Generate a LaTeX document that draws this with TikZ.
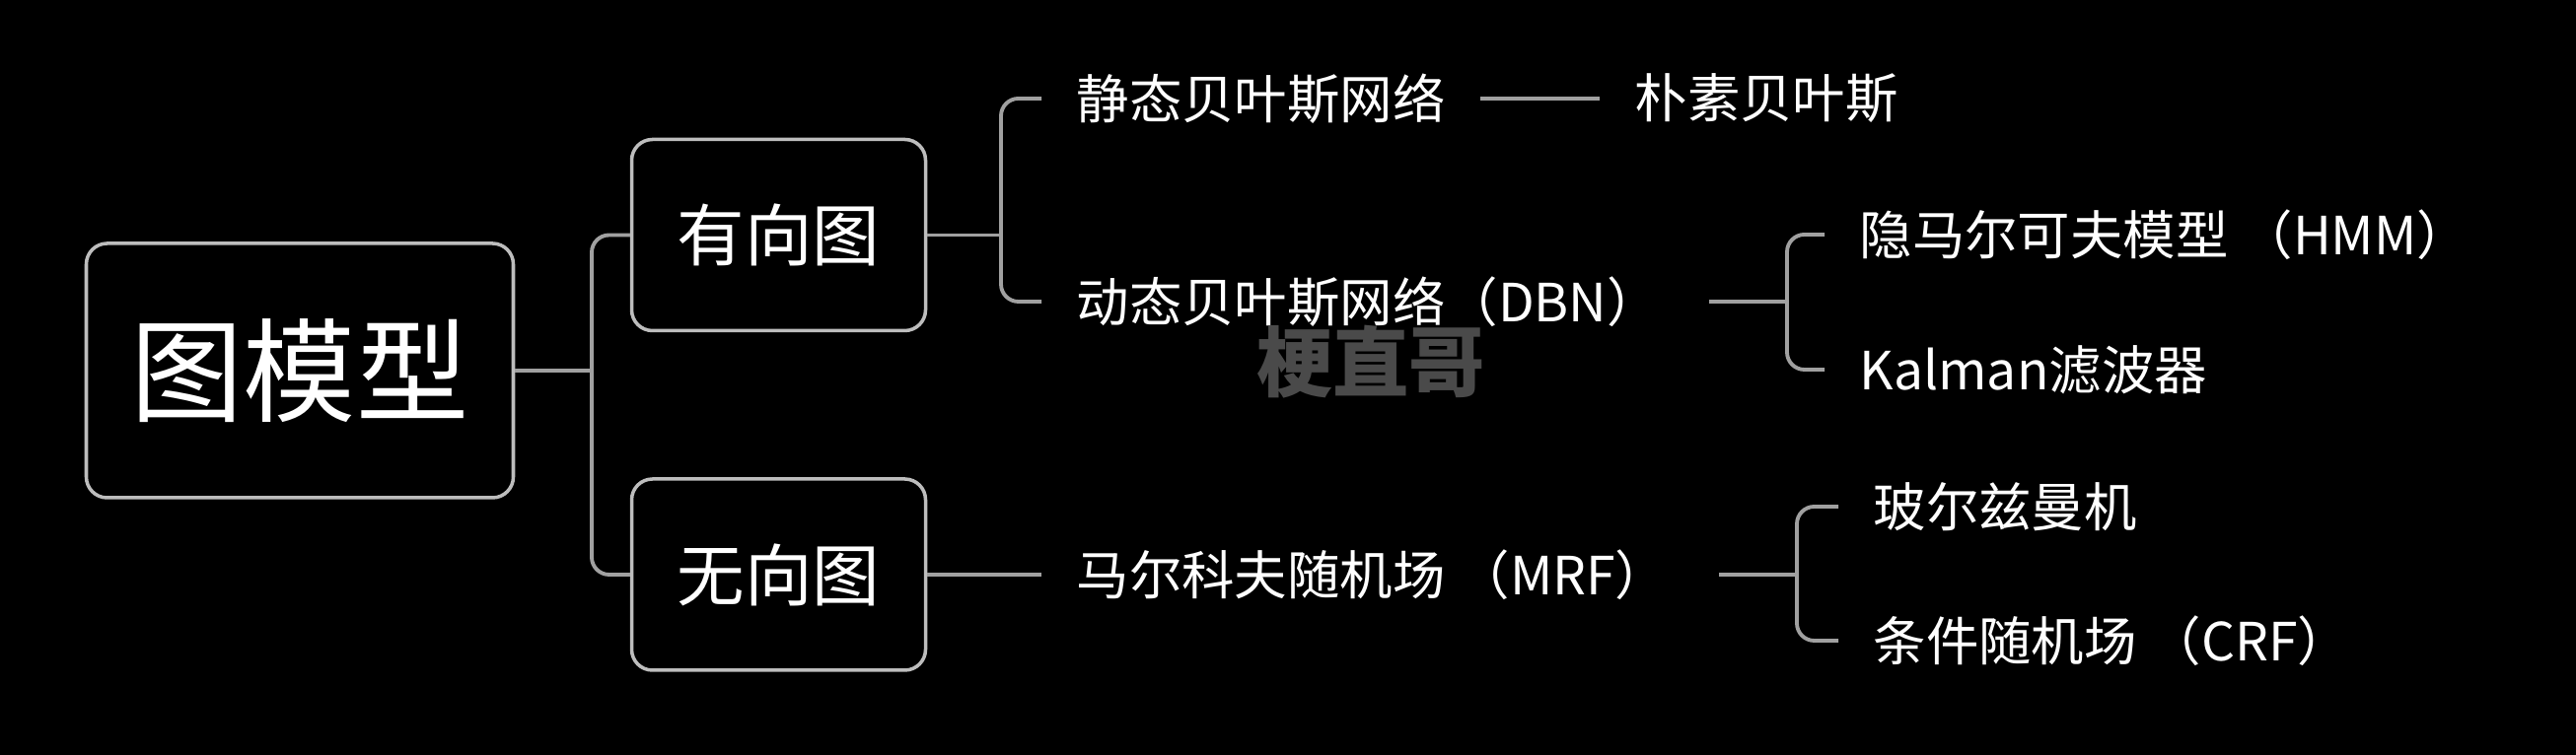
\documentclass[tikz,border=0pt]{standalone}
\usepackage{fontspec}
\setmainfont{Noto Sans CJK SC}
\definecolor{boxGray}{HTML}{BDBDBD}
\definecolor{lineGray}{HTML}{A0A0A0}
\definecolor{markGray}{HTML}{4A4A4A}
\tikzset{
    rootBox/.style={draw=boxGray, rounded corners=6pt, line width=1pt, text=white, minimum width=4.33cm, minimum height=2.58cm, font=\fontsize{32.5}{38}\selectfont},
    typeBox/.style={draw=boxGray, rounded corners=6pt, line width=1pt, text=white, minimum width=2.98cm, minimum height=1.94cm, font=\fontsize{19.5}{24}\selectfont},
    leafText/.style={anchor=west, text=white, inner xsep=0.35cm, inner ysep=0pt, font=\fontsize{15.2}{18}\selectfont},
    branchLine/.style={draw=lineGray, line width=1.1pt},
}
\newcommand{\drawLink}[2]{
    \draw[branchLine] (#1.east) -- (#2.west);
}
\newcommand{\drawFork}[5][0pt]{
    % parent, fork x, upper child, lower child
    \coordinate (fk) at (#2.east -| #3);
    \draw[branchLine, shorten <=#1] (#2.east) -- (fk);
    \draw[branchLine, rounded corners=5pt] (#4.west) -| (fk) |- (#5.west);
}
\begin{document}
\begin{tikzpicture}[x=1cm, y=1cm]

        \fill[black] (0,0) rectangle (26.12,7.66);
        \useasboundingbox (0,0) rectangle (26.12,7.66);

        \node[rootBox] (root) at (3.04, 3.90) {图模型};
        \node[typeBox] (directed) at (7.895, 5.275) {有向图};
        \node[typeBox] (undirected) at (7.895, 1.83) {无向图};

        \node[leafText] (static) at (10.56, 6.66) {静态贝叶斯网络};
        \node[leafText] (naive) at (16.22, 6.66) {朴素贝叶斯};
        \node[leafText] (dynamic) at (10.56, 4.60) {动态贝叶斯网络（DBN）};
        \node[leafText] (hmm) at (18.50, 5.28) {隐马尔可夫模型 （HMM）};
        \node[leafText] (kalman) at (18.50, 3.91) {Kalman滤波器};
        \node[leafText] (mrf) at (10.56, 1.83) {马尔科夫随机场 （MRF）};
        \node[leafText] (boltz) at (18.64, 2.52) {玻尔兹曼机};
        \node[leafText] (crf) at (18.64, 1.16) {条件随机场 （CRF）};

        \coordinate (xRoot) at (6.00, 0);
        \coordinate (xDirected) at (10.15, 0);
        \coordinate (xDynamic) at (18.12, 0);
        \coordinate (xMrf) at (18.22, 0);

        \drawFork{root}{xRoot}{directed}{undirected}
        \drawFork{directed}{xDirected}{static}{dynamic}
        \drawFork[0.14cm]{dynamic}{xDynamic}{hmm}{kalman}
        \drawFork[0.16cm]{mrf}{xMrf}{boltz}{crf}
        \drawLink{static}{naive}
        \drawLink{undirected}{mrf}

        \node[text=markGray, font=\bfseries\fontsize{22}{26}\selectfont] (watermark) at (13.90, 3.99) {梗直哥};

    \end{tikzpicture}
\end{document}
